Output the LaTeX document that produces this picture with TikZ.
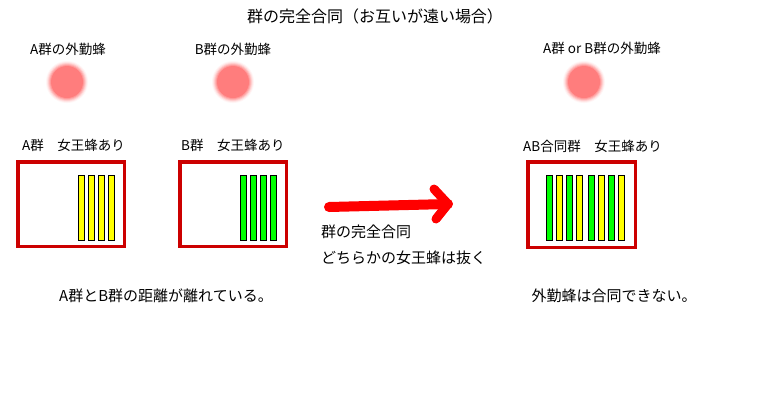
\documentclass[tikz,border=0pt]{standalone}
\usepackage{fontspec}
\setmainfont{Noto Sans CJK JP}
\definecolor{boxred}{RGB}{204,0,0}
\definecolor{blobc}{RGB}{255,125,125}
\definecolor{arrred}{RGB}{255,0,0}
\definecolor{bargreen}{RGB}{0,255,0}
\definecolor{baryellow}{RGB}{255,255,0}
\begin{document}
\begin{tikzpicture}[x=1pt,y=-1pt,
  txt/.style={inner sep=0pt,font=\fontsize{13.5}{16}\selectfont},
  bigtxt/.style={inner sep=0pt,font=\fontsize{15}{18}\selectfont},
  frame/.style={draw=boxred,line width=3.5pt,fill=white,minimum width=106.5pt,minimum height=84.5pt,inner sep=0pt,anchor=north west},
  ybar/.style={draw=black,line width=0.8pt,fill=baryellow},
  gbar/.style={draw=black,line width=0.8pt,fill=bargreen},
  brush/.style={draw=arrred,line cap=round,line join=round}]
\useasboundingbox (0,0) rectangle (780,400);
\fill[white] (0,0) rectangle (780,400);

% title
\node[inner sep=0pt,font=\fontsize{16}{18}\selectfont] (title) at (375,16) {群の完全合同（お互いが遠い場合）};

% forager labels
\node[txt] (fa) at (68,49) {A群の外勤蜂};
\node[txt] (fb) at (233,49) {B群の外勤蜂};
\node[txt] (fab) at (602,48) {A群 or B群の外勤蜂};

% blurred blobs
\coordinate (ca) at (67,82);
\coordinate (cb) at (233,82);
\coordinate (cab) at (584,82);
\foreach \c in {ca,cb,cab}{
  \foreach \r/\p in {21/8,20/20,19/38,18/58,17/78,16/100}
    \fill[blobc!\p!white] (\c) circle (\r);
}

% colony labels
\node[txt,anchor=west] (la) at (22,145) {A群　女王蜂あり};
\node[txt,anchor=west] (lb) at (181,145) {B群　女王蜂あり};
\node[txt,anchor=west] (lab) at (523,146) {AB合同群　女王蜂あり};

% boxes
\node[frame] (boxA) at (16,160) {};
\node[frame] (boxB) at (178,160) {};
\node[frame,minimum width=107.5pt,minimum height=85.5pt] (boxAB) at (526,160) {};

% bars A
\foreach \x in {78,88,98,108} \draw[ybar] (\x,175) rectangle ++(6,65);
% bars B
\foreach \x in {240,250,260,270} \draw[gbar] (\x,175) rectangle ++(6,65);
% bars AB
\foreach \x in {546,566,588,608} \draw[gbar] (\x,175) rectangle ++(6,65);
\foreach \x in {556,576,598,618} \draw[ybar] (\x,175) rectangle ++(6,65);

% arrow
\coordinate (as) at (329,207);
\coordinate (ae) at (448,204);
\coordinate (hu) at (434,189);
\coordinate (hd) at (436,219);
\draw[brush,line width=10pt] (as) -- (ae);
\draw[brush,line width=9pt] (hu) -- (ae) -- (hd);

% middle text
\node[bigtxt,anchor=west] (m1) at (321,232) {群の完全合同};
\node[bigtxt,anchor=west] (m2) at (321,258) {どちらかの女王蜂は抜く};

% bottom texts
\node[bigtxt] (b1) at (166,296) {A群とB群の距離が離れている。};
\node[bigtxt] (b2) at (614,296) {外勤蜂は合同できない。};
\end{tikzpicture}
\end{document}
